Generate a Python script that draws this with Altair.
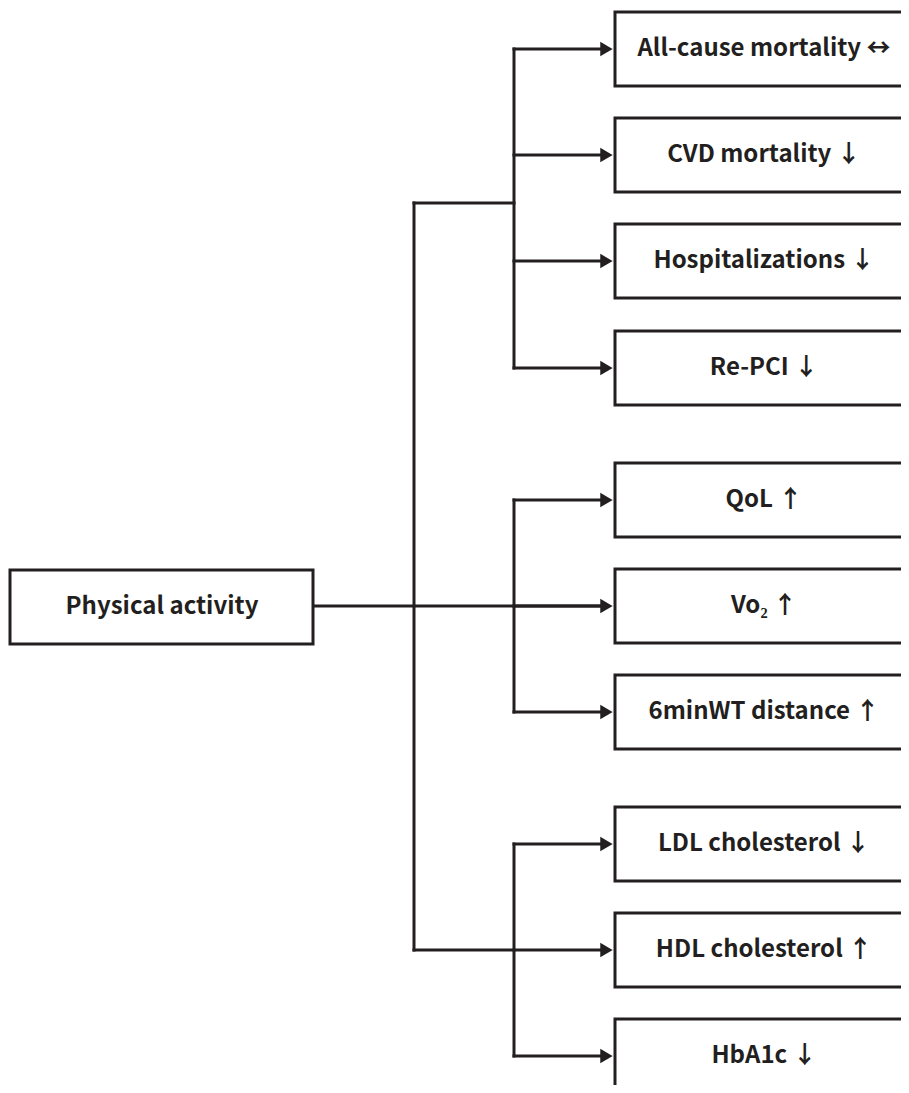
import altair as alt
import pandas as pd

INK = "#231f20"
FONT = "Noto Sans CJK SC"

# Outcome boxes (right column): label and vertical centre (layout units)
outcome_labels = [
    "All-cause mortality \u2194", "CVD mortality \u2193", "Hospitalizations \u2193", "Re-PCI \u2193",
    "QoL \u2191", "Vo\u2082 \u2191", "6minWT distance \u2191",
    "LDL cholesterol \u2193", "HDL cholesterol \u2191", "HbA1c \u2193",
]
outcome_y = [49, 155, 261, 368, 500, 606, 712, 844, 950, 1056]
group_of = [0, 0, 0, 0, 1, 1, 1, 2, 2, 2]

# Source box
source_label = "Physical activity"
source_y = 607

# layout columns
box_half_h = 37
right_x0, right_x1, right_text_x = 615, 925, 764
left_x0, left_x1, left_text_x = 10, 313, 162
main_spine_x = 414
group_spine_x = 514
arrow_tip_x = 612
# where each group connects to the main spine
group_join_y = [203, 606, 950]

X = alt.Scale(domain=[8, 901], nice=False, zero=False)
Y = alt.Scale(domain=[8, 1085], nice=False, zero=False, reverse=True)

boxes = pd.DataFrame({
    "x": [right_x0] * len(outcome_y) + [left_x0],
    "x2": [right_x1] * len(outcome_y) + [left_x1],
    "y": [v - box_half_h for v in outcome_y] + [source_y - box_half_h],
    "y2": [v + box_half_h for v in outcome_y] + [source_y + box_half_h],
})
texts = pd.DataFrame({
    "x": [right_text_x] * len(outcome_y) + [left_text_x],
    "y": outcome_y + [source_y],
    "label": outcome_labels + [source_label],
})

# connector segments
segs = []
segs.append((left_x1, arrow_tip_x - 6, source_y - 1, source_y - 1))
segs.append((main_spine_x, main_spine_x, group_join_y[0], group_join_y[2]))
segs.append((main_spine_x, group_spine_x, group_join_y[0], group_join_y[0]))
segs.append((main_spine_x, group_spine_x, group_join_y[2], group_join_y[2]))
for g in range(3):
    ys = [outcome_y[i] for i in range(len(outcome_y)) if group_of[i] == g]
    segs.append((group_spine_x, group_spine_x, min(ys), max(ys)))
for v in outcome_y:
    segs.append((group_spine_x, arrow_tip_x - 6, v, v))
seg_df = pd.DataFrame(segs, columns=["x", "x2", "y", "y2"])

heads = pd.DataFrame({"x": [arrow_tip_x - 6] * len(outcome_y), "y": outcome_y})

rect = alt.Chart(boxes).mark_rect(fill="white", stroke=INK, strokeWidth=3, clip=True).encode(
    x=alt.X("x:Q", scale=X, axis=None), x2="x2", y=alt.Y("y:Q", scale=Y, axis=None), y2="y2")

rules = alt.Chart(seg_df).mark_rule(color=INK, strokeWidth=3, strokeCap="square").encode(
    x=alt.X("x:Q", scale=X, axis=None), x2="x2", y=alt.Y("y:Q", scale=Y, axis=None), y2="y2")

arrows = alt.Chart(heads).mark_point(shape="triangle-right", filled=True, fill=INK, stroke=INK,
                                     size=120, opacity=1).encode(
    x=alt.X("x:Q", scale=X, axis=None), y=alt.Y("y:Q", scale=Y, axis=None))

labels = alt.Chart(texts).mark_text(font=FONT, fontSize=24, fontWeight="bold", color=INK,
                                    align="center", baseline="middle").encode(
    x=alt.X("x:Q", scale=X, axis=None), y=alt.Y("y:Q", scale=Y, axis=None), text="label")

chart = alt.layer(rules, arrows, rect, labels).properties(
    width=893, height=1077, padding=0, autosize=alt.AutoSizeParams(type="none")
).configure(background="white", view=alt.ViewConfig(stroke=None))

chart.save("out.html", embed_options={"renderer": "svg", "actions": False})
